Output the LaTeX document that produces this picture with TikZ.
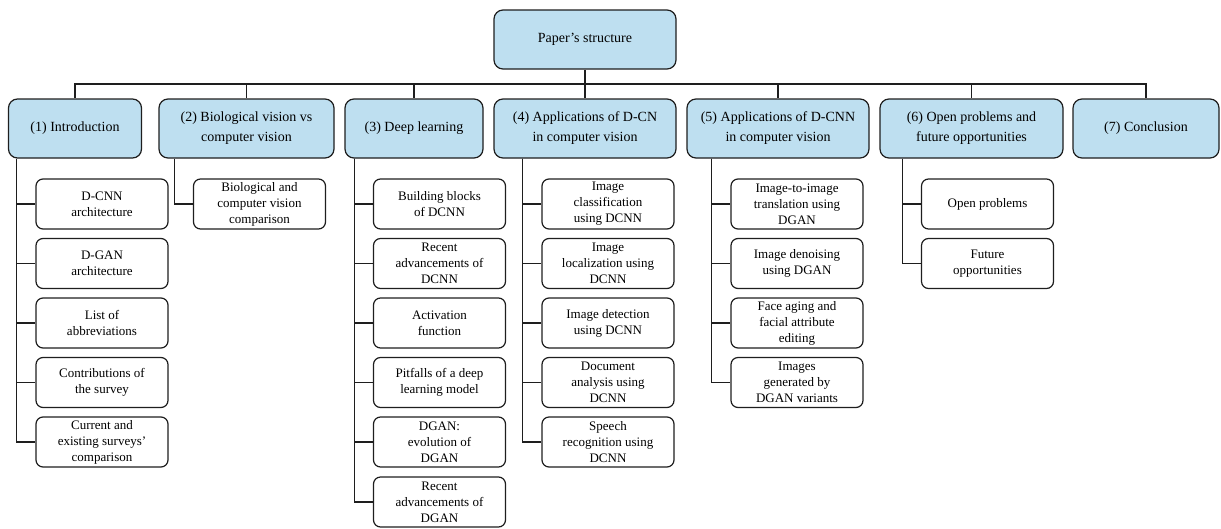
\documentclass[tikz,border=0pt]{standalone}
\usepackage{fontspec}
\setmainfont{Liberation Serif}
\definecolor{headfill}{RGB}{190,223,240}
\definecolor{edge}{RGB}{30,30,30}
\begin{document}
\begin{tikzpicture}[x=1pt,y=-1pt,
  every node/.style={align=center, inner sep=0pt, text=black},
  head/.style={draw=edge, fill=headfill, line width=1.2pt, rounded corners=9pt,
    minimum height=59pt, font=\fontsize{14}{20}\selectfont},
  leaf/.style={draw=edge, fill=white, line width=1.2pt, rounded corners=7pt,
    minimum width=132pt, minimum height=50pt, font=\fontsize{13}{16}\selectfont},
  link/.style={draw=edge, line width=1.2pt}]
\useasboundingbox (0,0) rectangle (1221,528);

% root
\node[head, minimum width=182pt] (root) at (585,39.5) {Paper’s structure};

% first level
\node[head, minimum width=133pt] (p1) at (75,128.5) {(1) Introduction};
\node[head, minimum width=175pt] (p2) at (246.5,128.5) {(2) Biological vision vs\\computer vision};
\node[head, minimum width=138pt] (p3) at (414,128.5) {(3) Deep learning};
\node[head, minimum width=182pt] (p4) at (585,128.5) {(4) Applications of D-CN\\in computer vision};
\node[head, minimum width=182pt] (p5) at (778,128.5) {(5) Applications of D-CNN\\in computer vision};
\node[head, minimum width=183pt] (p6) at (971.5,128.5) {(6) Open problems and\\future opportunities};
\node[head, minimum width=146pt] (p7) at (1146,128.5) {(7) Conclusion};

% bus from the root
\coordinate (bus) at (585,84);
\draw[link] (root.south) -- (bus);
\foreach \p in {p1,p2,p3,p4,p5,p6,p7}
  \draw[link] (bus) -| (\p.north);

% (1) Introduction
\node[leaf] (a1) at (102,204) {D-CNN\\architecture};
\node[leaf] (a2) at (102,263.5) {D-GAN\\architecture};
\node[leaf] (a3) at (102,323) {List of\\abbreviations};
\node[leaf] (a4) at (102,382.5) {Contributions of\\the survey};
\node[leaf] (a5) at (102,442) {Current and\\existing surveys’\\comparison};
\foreach \c in {a1,a2,a3,a4,a5}
  \draw[link] ([xshift=8.3pt]p1.south west) |- (\c.west);

% (2) Biological vs computer vision
\node[leaf] (b1) at (259.5,204) {Biological and\\computer vision\\comparison};
\draw[link] ([xshift=16pt]p2.south west) |- (b1.west);

% (3) Deep learning
\node[leaf] (c1) at (439.5,204) {Building blocks\\of DCNN};
\node[leaf] (c2) at (439.5,263.5) {Recent\\advancements of\\DCNN};
\node[leaf] (c3) at (439.5,323) {Activation\\function};
\node[leaf] (c4) at (439.5,382.5) {Pitfalls of a deep\\learning model};
\node[leaf] (c5) at (439.5,442) {DGAN:\\evolution of\\DGAN};
\node[leaf] (c6) at (439.5,502) {Recent\\advancements of\\DGAN};
\foreach \c in {c1,c2,c3,c4,c5,c6}
  \draw[link] ([xshift=10pt]p3.south west) |- (\c.west);

% (4) Applications of D-CN
\node[leaf] (d1) at (608,204) {Image\\classification\\using DCNN};
\node[leaf] (d2) at (608,263.5) {Image\\localization using\\DCNN};
\node[leaf] (d3) at (608,323) {Image detection\\using DCNN};
\node[leaf] (d4) at (608,382.5) {Document\\analysis using\\DCNN};
\node[leaf] (d5) at (608,442) {Speech\\recognition using\\DCNN};
\foreach \c in {d1,d2,d3,d4,d5}
  \draw[link] ([xshift=29pt]p4.south west) |- (\c.west);

% (5) Applications of D-CNN
\node[leaf] (e1) at (797,204) {Image-to-image\\translation using\\DGAN};
\node[leaf] (e2) at (797,263.5) {Image denoising\\using DGAN};
\node[leaf] (e3) at (797,323) {Face aging and\\facial attribute\\editing};
\node[leaf] (e4) at (797,382.5) {Images\\generated by\\DGAN variants};
\foreach \c in {e1,e2,e3,e4}
  \draw[link] ([xshift=25pt]p5.south west) |- (\c.west);

% (6) Open problems
\node[leaf] (f1) at (987.5,204) {Open problems};
\node[leaf] (f2) at (987.5,263.5) {Future\\opportunities};
\foreach \c in {f1,f2}
  \draw[link] ([xshift=23pt]p6.south west) |- (\c.west);
\end{tikzpicture}
\end{document}
